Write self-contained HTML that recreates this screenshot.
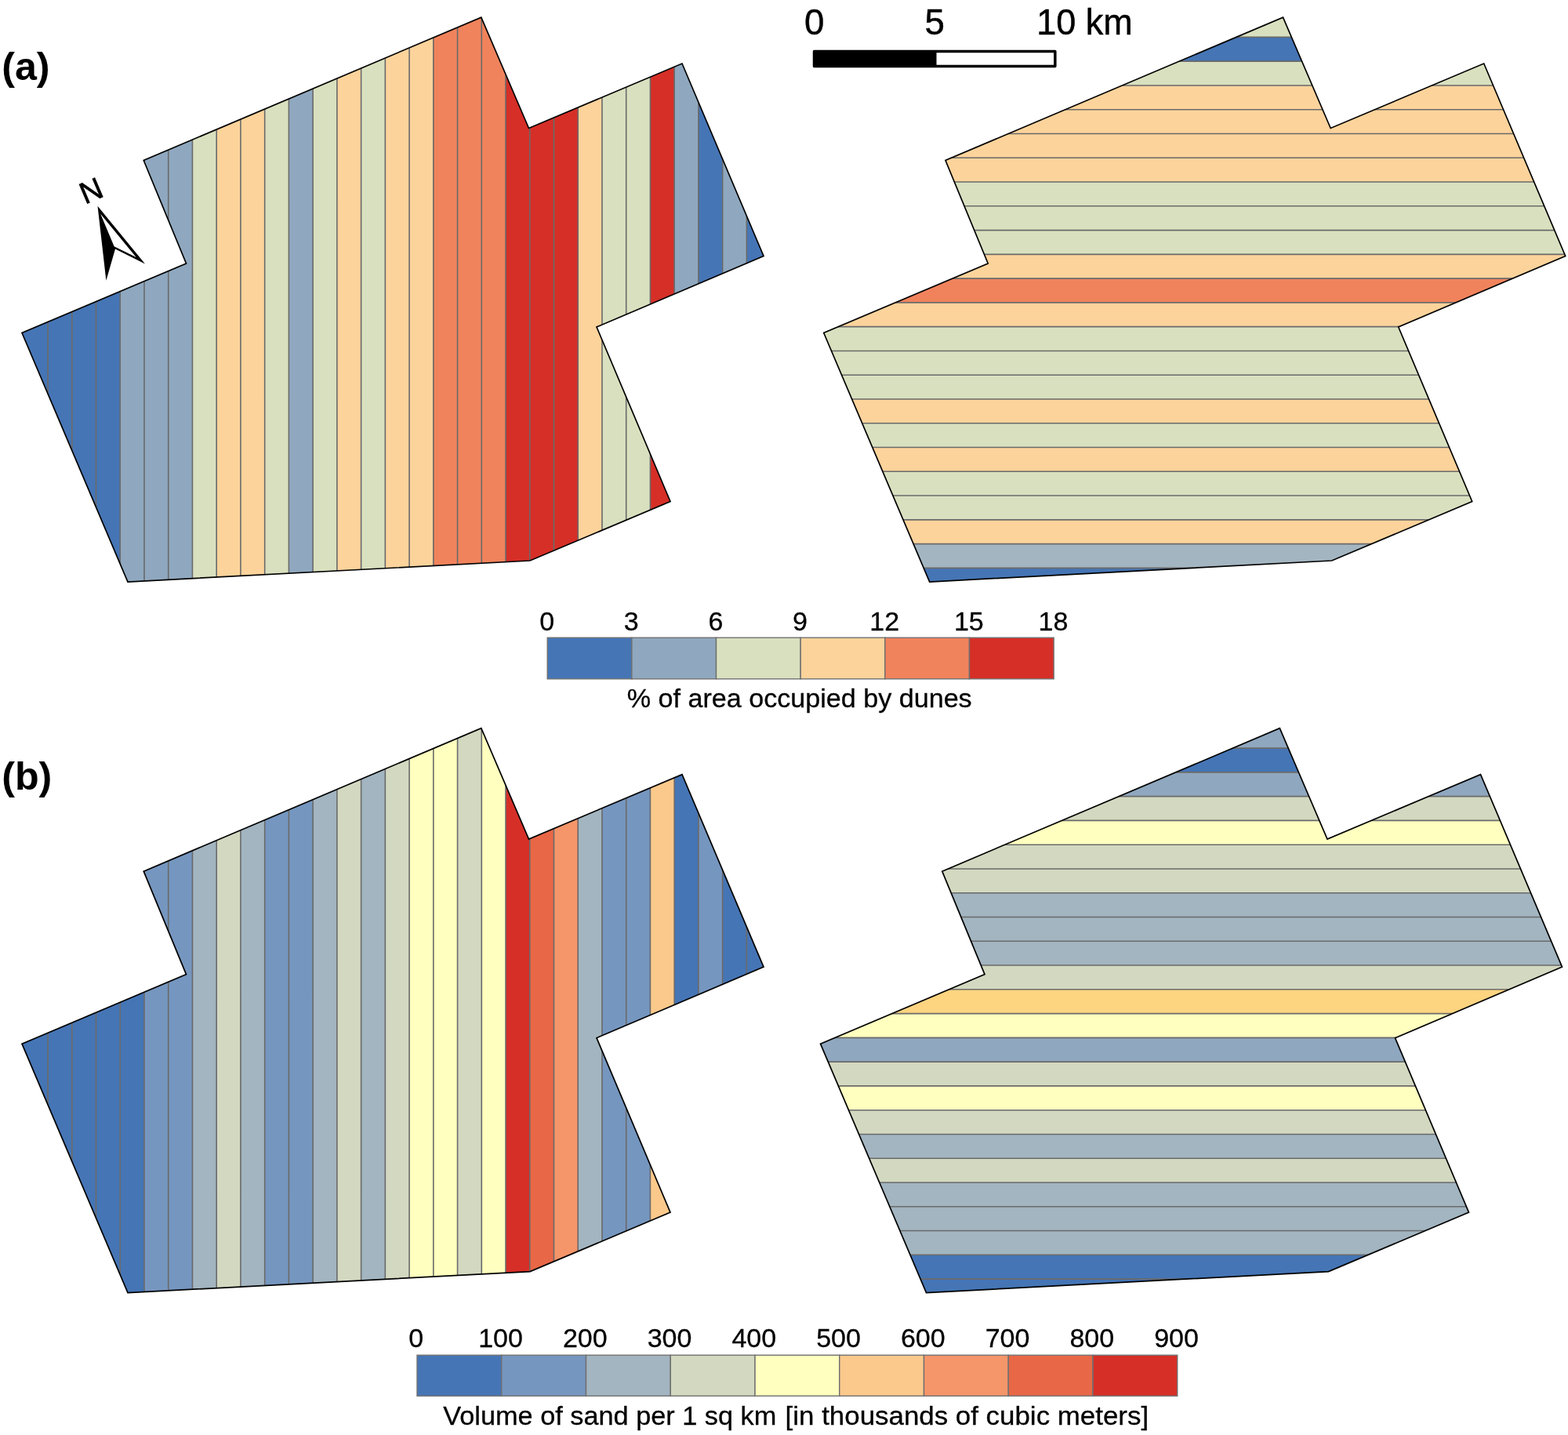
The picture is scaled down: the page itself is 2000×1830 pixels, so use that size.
<!DOCTYPE html>
<html lang="en">
<head>
<meta charset="utf-8">
<title>Dune area and sand volume maps</title>
<style>
html,body{margin:0;padding:0;background:#fff;}
body{width:2000px;height:1830px;overflow:hidden;}
svg{display:block;font-family:"Liberation Sans",sans-serif;fill:#000;}
</style>
</head>
<body>
<svg width="2000" height="1830" viewBox="0 0 2000 1830">
<rect width="2000" height="1830" fill="#fff"/>
<clipPath id="c1"><polygon points="613.80,22.10 674.50,163.50 870.00,81.00 974.00,326.50 761.00,417.00 855.00,639.50 676.00,715.00 163.00,742.00 28.00,424.50 237.50,336.00 183.25,204.50"/></clipPath>
<g clip-path="url(#c1)">
<rect x="25.00" y="19.10" width="36.65" height="725.90" fill="#4575b5"/>
<rect x="61.05" y="19.10" width="31.34" height="725.90" fill="#4575b5"/>
<rect x="91.78" y="19.10" width="31.34" height="725.90" fill="#4575b5"/>
<rect x="122.52" y="19.10" width="31.34" height="725.90" fill="#4575b5"/>
<rect x="153.25" y="19.10" width="31.34" height="725.90" fill="#8fa8bf"/>
<rect x="183.99" y="19.10" width="31.34" height="725.90" fill="#8fa8bf"/>
<rect x="214.73" y="19.10" width="31.33" height="725.90" fill="#8fa8bf"/>
<rect x="245.46" y="19.10" width="31.34" height="725.90" fill="#d9e0bf"/>
<rect x="276.19" y="19.10" width="31.34" height="725.90" fill="#fcd39b"/>
<rect x="306.93" y="19.10" width="31.34" height="725.90" fill="#fcd39b"/>
<rect x="337.67" y="19.10" width="31.34" height="725.90" fill="#d9e0bf"/>
<rect x="368.40" y="19.10" width="31.33" height="725.90" fill="#8fa8bf"/>
<rect x="399.13" y="19.10" width="31.34" height="725.90" fill="#d9e0bf"/>
<rect x="429.87" y="19.10" width="31.34" height="725.90" fill="#fcd39b"/>
<rect x="460.61" y="19.10" width="31.33" height="725.90" fill="#d9e0bf"/>
<rect x="491.34" y="19.10" width="31.33" height="725.90" fill="#fcd39b"/>
<rect x="522.07" y="19.10" width="31.34" height="725.90" fill="#fcd39b"/>
<rect x="552.81" y="19.10" width="31.34" height="725.90" fill="#f0835c"/>
<rect x="583.54" y="19.10" width="31.34" height="725.90" fill="#f0835c"/>
<rect x="614.28" y="19.10" width="31.34" height="725.90" fill="#f0835c"/>
<rect x="645.01" y="19.10" width="31.34" height="725.90" fill="#d62f27"/>
<rect x="675.75" y="19.10" width="31.33" height="725.90" fill="#d62f27"/>
<rect x="706.48" y="19.10" width="31.34" height="725.90" fill="#d62f27"/>
<rect x="737.22" y="19.10" width="31.34" height="725.90" fill="#fcd39b"/>
<rect x="767.95" y="19.10" width="31.34" height="725.90" fill="#d9e0bf"/>
<rect x="798.69" y="19.10" width="31.34" height="725.90" fill="#d9e0bf"/>
<rect x="829.42" y="19.10" width="31.34" height="725.90" fill="#d62f27"/>
<rect x="860.16" y="19.10" width="31.34" height="725.90" fill="#8fa8bf"/>
<rect x="890.89" y="19.10" width="31.33" height="725.90" fill="#4575b5"/>
<rect x="921.63" y="19.10" width="31.34" height="725.90" fill="#8fa8bf"/>
<rect x="952.36" y="19.10" width="25.24" height="725.90" fill="#4575b5"/>
<path d="M61.05 19.10V745.00M91.78 19.10V745.00M122.52 19.10V745.00M153.25 19.10V745.00M183.99 19.10V745.00M214.73 19.10V745.00M245.46 19.10V745.00M276.19 19.10V745.00M306.93 19.10V745.00M337.67 19.10V745.00M368.40 19.10V745.00M399.13 19.10V745.00M429.87 19.10V745.00M460.61 19.10V745.00M491.34 19.10V745.00M522.07 19.10V745.00M552.81 19.10V745.00M583.54 19.10V745.00M614.28 19.10V745.00M645.01 19.10V745.00M675.75 19.10V745.00M706.48 19.10V745.00M737.22 19.10V745.00M767.95 19.10V745.00M798.69 19.10V745.00M829.42 19.10V745.00M860.16 19.10V745.00M890.89 19.10V745.00M921.63 19.10V745.00M952.36 19.10V745.00" stroke="#6a6a6a" stroke-width="1.60" fill="none"/>
</g>
<polygon points="613.80,22.10 674.50,163.50 870.00,81.00 974.00,326.50 761.00,417.00 855.00,639.50 676.00,715.00 163.00,742.00 28.00,424.50 237.50,336.00 183.25,204.50" fill="none" stroke="#000" stroke-width="1.70" stroke-linejoin="miter"/>
<clipPath id="c2"><polygon points="1636.50,22.10 1697.20,163.50 1892.70,81.00 1996.70,326.50 1783.70,417.00 1877.70,639.50 1698.70,715.00 1185.70,742.00 1050.70,424.50 1260.20,336.00 1205.95,204.50"/></clipPath>
<g clip-path="url(#c2)">
<rect x="1047.70" y="19.10" width="952.00" height="28.90" fill="#d9e0bf"/>
<rect x="1047.70" y="47.40" width="952.00" height="31.37" fill="#4575b5"/>
<rect x="1047.70" y="78.17" width="952.00" height="31.37" fill="#d9e0bf"/>
<rect x="1047.70" y="108.94" width="952.00" height="31.37" fill="#fcd39b"/>
<rect x="1047.70" y="139.72" width="952.00" height="31.37" fill="#fcd39b"/>
<rect x="1047.70" y="170.49" width="952.00" height="31.37" fill="#fcd39b"/>
<rect x="1047.70" y="201.26" width="952.00" height="31.37" fill="#fcd39b"/>
<rect x="1047.70" y="232.03" width="952.00" height="31.37" fill="#d9e0bf"/>
<rect x="1047.70" y="262.80" width="952.00" height="31.37" fill="#d9e0bf"/>
<rect x="1047.70" y="293.58" width="952.00" height="31.37" fill="#d9e0bf"/>
<rect x="1047.70" y="324.35" width="952.00" height="31.37" fill="#fcd39b"/>
<rect x="1047.70" y="355.12" width="952.00" height="31.37" fill="#f0835c"/>
<rect x="1047.70" y="385.89" width="952.00" height="31.37" fill="#fcd39b"/>
<rect x="1047.70" y="416.66" width="952.00" height="31.37" fill="#d9e0bf"/>
<rect x="1047.70" y="447.44" width="952.00" height="31.37" fill="#d9e0bf"/>
<rect x="1047.70" y="478.21" width="952.00" height="31.37" fill="#d9e0bf"/>
<rect x="1047.70" y="508.98" width="952.00" height="31.37" fill="#fcd39b"/>
<rect x="1047.70" y="539.75" width="952.00" height="31.37" fill="#d9e0bf"/>
<rect x="1047.70" y="570.52" width="952.00" height="31.37" fill="#fcd39b"/>
<rect x="1047.70" y="601.30" width="952.00" height="31.37" fill="#d9e0bf"/>
<rect x="1047.70" y="632.07" width="952.00" height="31.37" fill="#d9e0bf"/>
<rect x="1047.70" y="662.84" width="952.00" height="31.37" fill="#fcd39b"/>
<rect x="1047.70" y="693.61" width="952.00" height="31.37" fill="#a3b5c0"/>
<rect x="1047.70" y="724.38" width="952.00" height="21.22" fill="#4575b5"/>
<path d="M1047.70 47.40H1999.70M1047.70 78.17H1999.70M1047.70 108.94H1999.70M1047.70 139.72H1999.70M1047.70 170.49H1999.70M1047.70 201.26H1999.70M1047.70 232.03H1999.70M1047.70 262.80H1999.70M1047.70 293.58H1999.70M1047.70 324.35H1999.70M1047.70 355.12H1999.70M1047.70 385.89H1999.70M1047.70 416.66H1999.70M1047.70 447.44H1999.70M1047.70 478.21H1999.70M1047.70 508.98H1999.70M1047.70 539.75H1999.70M1047.70 570.52H1999.70M1047.70 601.30H1999.70M1047.70 632.07H1999.70M1047.70 662.84H1999.70M1047.70 693.61H1999.70M1047.70 724.38H1999.70" stroke="#6a6a6a" stroke-width="1.60" fill="none"/>
</g>
<polygon points="1636.50,22.10 1697.20,163.50 1892.70,81.00 1996.70,326.50 1783.70,417.00 1877.70,639.50 1698.70,715.00 1185.70,742.00 1050.70,424.50 1260.20,336.00 1205.95,204.50" fill="none" stroke="#000" stroke-width="1.70" stroke-linejoin="miter"/>
<clipPath id="c3"><polygon points="613.80,928.70 674.50,1070.10 870.00,987.60 974.00,1233.10 761.00,1323.60 855.00,1546.10 676.00,1621.60 163.00,1648.60 28.00,1331.10 237.50,1242.60 183.25,1111.10"/></clipPath>
<g clip-path="url(#c3)">
<rect x="25.00" y="925.70" width="36.65" height="725.90" fill="#4575b5"/>
<rect x="61.05" y="925.70" width="31.34" height="725.90" fill="#4575b5"/>
<rect x="91.78" y="925.70" width="31.34" height="725.90" fill="#4575b5"/>
<rect x="122.52" y="925.70" width="31.34" height="725.90" fill="#4575b5"/>
<rect x="153.25" y="925.70" width="31.34" height="725.90" fill="#4575b5"/>
<rect x="183.99" y="925.70" width="31.34" height="725.90" fill="#7596bf"/>
<rect x="214.73" y="925.70" width="31.33" height="725.90" fill="#7596bf"/>
<rect x="245.46" y="925.70" width="31.34" height="725.90" fill="#a2b5c0"/>
<rect x="276.19" y="925.70" width="31.34" height="725.90" fill="#d3d9c0"/>
<rect x="306.93" y="925.70" width="31.34" height="725.90" fill="#a2b5c0"/>
<rect x="337.67" y="925.70" width="31.34" height="725.90" fill="#7596bf"/>
<rect x="368.40" y="925.70" width="31.33" height="725.90" fill="#7596bf"/>
<rect x="399.13" y="925.70" width="31.34" height="725.90" fill="#a2b5c0"/>
<rect x="429.87" y="925.70" width="31.34" height="725.90" fill="#d3d9c0"/>
<rect x="460.61" y="925.70" width="31.33" height="725.90" fill="#a2b5c0"/>
<rect x="491.34" y="925.70" width="31.33" height="725.90" fill="#d3d9c0"/>
<rect x="522.07" y="925.70" width="31.34" height="725.90" fill="#ffffbf"/>
<rect x="552.81" y="925.70" width="31.34" height="725.90" fill="#ffffbf"/>
<rect x="583.54" y="925.70" width="31.34" height="725.90" fill="#d3d9c0"/>
<rect x="614.28" y="925.70" width="31.34" height="725.90" fill="#ffffbf"/>
<rect x="645.01" y="925.70" width="31.34" height="725.90" fill="#d62f27"/>
<rect x="675.75" y="925.70" width="31.33" height="725.90" fill="#e86746"/>
<rect x="706.48" y="925.70" width="31.34" height="725.90" fill="#f5956a"/>
<rect x="737.22" y="925.70" width="31.34" height="725.90" fill="#a2b5c0"/>
<rect x="767.95" y="925.70" width="31.34" height="725.90" fill="#7596bf"/>
<rect x="798.69" y="925.70" width="31.34" height="725.90" fill="#7596bf"/>
<rect x="829.42" y="925.70" width="31.34" height="725.90" fill="#fcc98c"/>
<rect x="860.16" y="925.70" width="31.34" height="725.90" fill="#4575b5"/>
<rect x="890.89" y="925.70" width="31.33" height="725.90" fill="#7596bf"/>
<rect x="921.63" y="925.70" width="31.34" height="725.90" fill="#4575b5"/>
<rect x="952.36" y="925.70" width="25.24" height="725.90" fill="#4575b5"/>
<path d="M61.05 925.70V1651.60M91.78 925.70V1651.60M122.52 925.70V1651.60M153.25 925.70V1651.60M183.99 925.70V1651.60M214.73 925.70V1651.60M245.46 925.70V1651.60M276.19 925.70V1651.60M306.93 925.70V1651.60M337.67 925.70V1651.60M368.40 925.70V1651.60M399.13 925.70V1651.60M429.87 925.70V1651.60M460.61 925.70V1651.60M491.34 925.70V1651.60M522.07 925.70V1651.60M552.81 925.70V1651.60M583.54 925.70V1651.60M614.28 925.70V1651.60M645.01 925.70V1651.60M675.75 925.70V1651.60M706.48 925.70V1651.60M737.22 925.70V1651.60M767.95 925.70V1651.60M798.69 925.70V1651.60M829.42 925.70V1651.60M860.16 925.70V1651.60M890.89 925.70V1651.60M921.63 925.70V1651.60M952.36 925.70V1651.60" stroke="#6a6a6a" stroke-width="1.60" fill="none"/>
</g>
<polygon points="613.80,928.70 674.50,1070.10 870.00,987.60 974.00,1233.10 761.00,1323.60 855.00,1546.10 676.00,1621.60 163.00,1648.60 28.00,1331.10 237.50,1242.60 183.25,1111.10" fill="none" stroke="#000" stroke-width="1.70" stroke-linejoin="miter"/>
<clipPath id="c4"><polygon points="1632.30,928.70 1693.00,1070.10 1888.50,987.60 1992.50,1233.10 1779.50,1323.60 1873.50,1546.10 1694.50,1621.60 1181.50,1648.60 1046.50,1331.10 1256.00,1242.60 1201.75,1111.10"/></clipPath>
<g clip-path="url(#c4)">
<rect x="1043.50" y="925.70" width="952.00" height="29.00" fill="#8fa7bf"/>
<rect x="1043.50" y="954.10" width="952.00" height="31.37" fill="#4575b5"/>
<rect x="1043.50" y="984.87" width="952.00" height="31.37" fill="#8fa7bf"/>
<rect x="1043.50" y="1015.64" width="952.00" height="31.37" fill="#d3d9c0"/>
<rect x="1043.50" y="1046.42" width="952.00" height="31.37" fill="#ffffbf"/>
<rect x="1043.50" y="1077.19" width="952.00" height="31.37" fill="#d3d9c0"/>
<rect x="1043.50" y="1107.96" width="952.00" height="31.37" fill="#d3d9c0"/>
<rect x="1043.50" y="1138.73" width="952.00" height="31.37" fill="#a2b5c0"/>
<rect x="1043.50" y="1169.50" width="952.00" height="31.37" fill="#a2b5c0"/>
<rect x="1043.50" y="1200.28" width="952.00" height="31.37" fill="#a2b5c0"/>
<rect x="1043.50" y="1231.05" width="952.00" height="31.37" fill="#d3d9c0"/>
<rect x="1043.50" y="1261.82" width="952.00" height="31.37" fill="#fdd480"/>
<rect x="1043.50" y="1292.59" width="952.00" height="31.37" fill="#ffffbf"/>
<rect x="1043.50" y="1323.36" width="952.00" height="31.37" fill="#8fa7bf"/>
<rect x="1043.50" y="1354.14" width="952.00" height="31.37" fill="#d3d9c0"/>
<rect x="1043.50" y="1384.91" width="952.00" height="31.37" fill="#ffffbf"/>
<rect x="1043.50" y="1415.68" width="952.00" height="31.37" fill="#d3d9c0"/>
<rect x="1043.50" y="1446.45" width="952.00" height="31.37" fill="#a2b5c0"/>
<rect x="1043.50" y="1477.22" width="952.00" height="31.37" fill="#d3d9c0"/>
<rect x="1043.50" y="1508.00" width="952.00" height="31.37" fill="#a2b5c0"/>
<rect x="1043.50" y="1538.77" width="952.00" height="31.37" fill="#a2b5c0"/>
<rect x="1043.50" y="1569.54" width="952.00" height="31.37" fill="#a2b5c0"/>
<rect x="1043.50" y="1600.31" width="952.00" height="31.37" fill="#4575b5"/>
<rect x="1043.50" y="1631.08" width="952.00" height="21.12" fill="#4575b5"/>
<path d="M1043.50 954.10H1995.50M1043.50 984.87H1995.50M1043.50 1015.64H1995.50M1043.50 1046.42H1995.50M1043.50 1077.19H1995.50M1043.50 1107.96H1995.50M1043.50 1138.73H1995.50M1043.50 1169.50H1995.50M1043.50 1200.28H1995.50M1043.50 1231.05H1995.50M1043.50 1261.82H1995.50M1043.50 1292.59H1995.50M1043.50 1323.36H1995.50M1043.50 1354.14H1995.50M1043.50 1384.91H1995.50M1043.50 1415.68H1995.50M1043.50 1446.45H1995.50M1043.50 1477.22H1995.50M1043.50 1508.00H1995.50M1043.50 1538.77H1995.50M1043.50 1569.54H1995.50M1043.50 1600.31H1995.50M1043.50 1631.08H1995.50" stroke="#6a6a6a" stroke-width="1.60" fill="none"/>
</g>
<polygon points="1632.30,928.70 1693.00,1070.10 1888.50,987.60 1992.50,1233.10 1779.50,1323.60 1873.50,1546.10 1694.50,1621.60 1181.50,1648.60 1046.50,1331.10 1256.00,1242.60 1201.75,1111.10" fill="none" stroke="#000" stroke-width="1.70" stroke-linejoin="miter"/>
<g stroke="#000" stroke-width="0.3">
<rect x="698.20" y="813.20" width="107.65" height="52.60" fill="#4575b5" stroke="#707070" stroke-width="1.4"/>
<rect x="805.85" y="813.20" width="107.65" height="52.60" fill="#8fa8bf" stroke="#707070" stroke-width="1.4"/>
<rect x="913.50" y="813.20" width="107.65" height="52.60" fill="#d9e0bf" stroke="#707070" stroke-width="1.4"/>
<rect x="1021.15" y="813.20" width="107.65" height="52.60" fill="#fcd39b" stroke="#707070" stroke-width="1.4"/>
<rect x="1128.80" y="813.20" width="107.65" height="52.60" fill="#f0835c" stroke="#707070" stroke-width="1.4"/>
<rect x="1236.45" y="813.20" width="107.65" height="52.60" fill="#d62f27" stroke="#707070" stroke-width="1.4"/>
<text x="697.60" y="803.60" font-size="34.00" text-anchor="middle">0</text>
<text x="805.25" y="803.60" font-size="34.00" text-anchor="middle">3</text>
<text x="912.90" y="803.60" font-size="34.00" text-anchor="middle">6</text>
<text x="1020.55" y="803.60" font-size="34.00" text-anchor="middle">9</text>
<text x="1128.20" y="803.60" font-size="34.00" text-anchor="middle">12</text>
<text x="1235.85" y="803.60" font-size="34.00" text-anchor="middle">15</text>
<text x="1343.50" y="803.60" font-size="34.00" text-anchor="middle">18</text>
<text x="1019.7" y="902.3" font-size="33.5" text-anchor="middle" textLength="440" lengthAdjust="spacingAndGlyphs">% of area occupied by dunes</text>
<rect x="532.00" y="1728.20" width="107.75" height="52.00" fill="#4575b5" stroke="#707070" stroke-width="1.4"/>
<rect x="639.75" y="1728.20" width="107.75" height="52.00" fill="#7596bf" stroke="#707070" stroke-width="1.4"/>
<rect x="747.50" y="1728.20" width="107.75" height="52.00" fill="#a2b5c0" stroke="#707070" stroke-width="1.4"/>
<rect x="855.25" y="1728.20" width="107.75" height="52.00" fill="#d3d9c0" stroke="#707070" stroke-width="1.4"/>
<rect x="963.00" y="1728.20" width="107.75" height="52.00" fill="#ffffbf" stroke="#707070" stroke-width="1.4"/>
<rect x="1070.75" y="1728.20" width="107.75" height="52.00" fill="#fcc98c" stroke="#707070" stroke-width="1.4"/>
<rect x="1178.50" y="1728.20" width="107.75" height="52.00" fill="#f5956a" stroke="#707070" stroke-width="1.4"/>
<rect x="1286.25" y="1728.20" width="107.75" height="52.00" fill="#e86746" stroke="#707070" stroke-width="1.4"/>
<rect x="1394.00" y="1728.20" width="107.75" height="52.00" fill="#d62f27" stroke="#707070" stroke-width="1.4"/>
<text x="530.80" y="1718.00" font-size="34.00" text-anchor="middle">0</text>
<text x="638.55" y="1718.00" font-size="34.00" text-anchor="middle">100</text>
<text x="746.30" y="1718.00" font-size="34.00" text-anchor="middle">200</text>
<text x="854.05" y="1718.00" font-size="34.00" text-anchor="middle">300</text>
<text x="961.80" y="1718.00" font-size="34.00" text-anchor="middle">400</text>
<text x="1069.55" y="1718.00" font-size="34.00" text-anchor="middle">500</text>
<text x="1177.30" y="1718.00" font-size="34.00" text-anchor="middle">600</text>
<text x="1285.05" y="1718.00" font-size="34.00" text-anchor="middle">700</text>
<text x="1392.80" y="1718.00" font-size="34.00" text-anchor="middle">800</text>
<text x="1500.55" y="1718.00" font-size="34.00" text-anchor="middle">900</text>
<text y="1817" font-size="33.5"><tspan x="565.3" textLength="425" lengthAdjust="spacingAndGlyphs">Volume of sand per 1 sq km</tspan><tspan> </tspan><tspan x="1001.6" textLength="463.5" lengthAdjust="spacingAndGlyphs">[in thousands of cubic meters]</tspan></text>
</g>
<rect x="1038.5" y="65.4" width="307.3" height="19" fill="#fff" stroke="#000" stroke-width="3.5" stroke-linejoin="round"/>
<rect x="1038.5" y="65.4" width="156" height="19" fill="#000"/>
<g font-size="45.6" stroke="#000" stroke-width="0.5">
<text x="1038.6" y="44.2" text-anchor="middle">0</text>
<text x="1192.3" y="44.2" text-anchor="middle">5</text>
<text x="1322.3" y="44.2" textLength="122.5" lengthAdjust="spacingAndGlyphs">10 km</text>
</g>
<text x="2.2" y="102" font-size="50.2" font-weight="bold">(a)</text>
<text x="2.2" y="1007" font-size="50.2" font-weight="bold">(b)</text>
<polygon points="124.5,262.7 185.0,336.6 147.0,317.6 135.4,357.8" fill="#000"/>
<polygon points="128.2,272.8 173.6,327.9 145.6,314.2" fill="#fff"/>
<text transform="translate(124.8,263.3) rotate(-23)" x="0" y="-8.6" font-size="38.6" text-anchor="middle" stroke="#000" stroke-width="0.7">N</text>
</svg>
</body>
</html>
